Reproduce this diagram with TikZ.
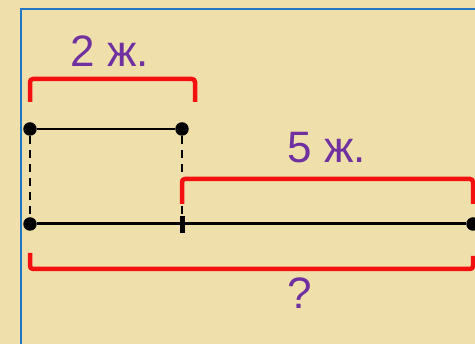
\documentclass[tikz,border=0pt]{standalone}
\usepackage{fontspec}
\setmainfont{Liberation Sans}
\definecolor{bgL}{HTML}{EFE0AB}
\definecolor{bgD}{HTML}{E0C883}
\definecolor{frameblue}{HTML}{2277C4}
\definecolor{labelpurple}{HTML}{7030A0}
\definecolor{bracketred}{HTML}{F51010}
\tikzset{
  dot/.style={circle,fill=black,inner sep=0pt,minimum size=13.5pt},
  tickmark/.style={rectangle,fill=black,inner sep=0pt,minimum width=5pt,minimum height=17pt},
  bracket/.style={draw=bracketred,line width=4.5pt,rounded corners=3pt},
  seg/.style={draw=black,line width=2pt},
  mainseg/.style={draw=black,line width=3pt},
  guide/.style={draw=black,line width=1.8pt,dash pattern=on 8pt off 6pt},
  lbl/.style={text=labelpurple,font=\fontsize{44}{48}\selectfont,inner sep=0pt,anchor=base},
  frameline/.style={draw=frameblue,line width=2.2pt}
}
\begin{document}
\begin{tikzpicture}[x=1pt,y=-1pt]
\useasboundingbox (0,0) rectangle (475,344);
\fill[bgL] (0,0) rectangle (475,344);
\foreach \i in {0,...,19} {
  \shade[left color=bgL,middle color=bgD,right color=bgL] ({\i*25-6},0) rectangle ({\i*25+19},344);
}
\draw[frameline] (21,350) -- (21,9) -- (480,9);
% nodes
\node[dot] (A) at (30,129) {};
\node[dot] (B) at (182,129) {};
\node[dot] (C) at (30,224) {};
\node[dot] (D) at (473,224) {};
\node[tickmark] (E) at (182,225) {};
% connectors
\draw[guide] (A) -- (C);
\draw[guide] (B) -- (E);
\draw[seg] (A) -- (B);
\draw[mainseg] (C) -- (D);
% brackets
\draw[bracket] (30,102) -- (30,79) -- (195,79) -- (195,102);
\draw[bracket] (182,204) -- (182,179) -- (473,179) -- (473,204);
\draw[bracket] (30,253) -- (30,269) -- (473,269) -- (473,256);
% labels
\node[lbl] (L1) at (110,67) {2 ж.};
\node[lbl] (L2) at (327,163) {5 ж.};
\node[lbl] (L3) at (300,309) {?};
\end{tikzpicture}
\end{document}
